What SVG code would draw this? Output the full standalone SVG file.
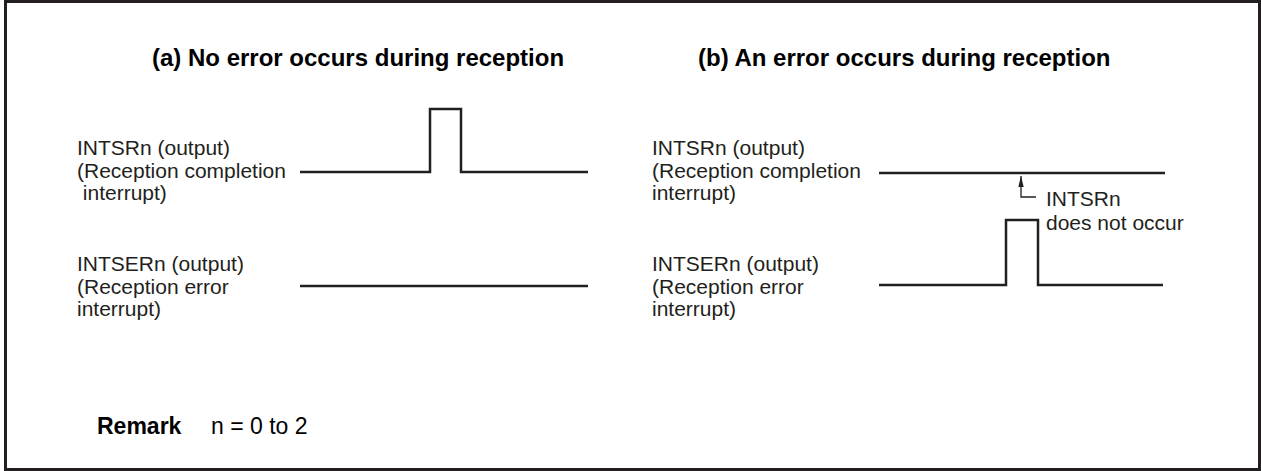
<svg xmlns="http://www.w3.org/2000/svg" width="1261" height="471" viewBox="0 0 1261 471">
<style>
.t{font-family:"Liberation Sans",Arial,sans-serif;font-size:21px;fill:#231f20}
.h{font-family:"Liberation Sans",Arial,sans-serif;font-size:24px;font-weight:bold;fill:#000}
.r{font-family:"Liberation Sans",Arial,sans-serif;font-size:23px;fill:#000}
.w{fill:none;stroke:#231f20;stroke-width:2.5;stroke-linejoin:miter}
.a{fill:none;stroke:#231f20;stroke-width:1.3}
</style>
<defs>
<marker id="ah" markerWidth="12" markerHeight="6" refX="11" refY="3" orient="auto" markerUnits="userSpaceOnUse" viewBox="0 0 12 6">
<path d="M0,0.3 L11,3 L0,5.7 Z" fill="#231f20"/>
</marker>
</defs>
<rect x="5.5" y="1.5" width="1254" height="468" fill="#fff" stroke="#231f20" stroke-width="3"/>
<g id="title-a"><text class="h" x="152" y="66">(a) No error occurs during reception</text></g>
<g id="title-b"><text class="h" x="698" y="66">(b) An error occurs during reception</text></g>
<g id="label-a-intsr" class="t">
<text x="77" y="155">INTSRn (output)</text>
<text x="77" y="177.5">(Reception completion</text>
<text x="77" y="200" xml:space="preserve"> interrupt)</text>
</g>
<g id="label-a-intser" class="t">
<text x="77" y="271">INTSERn (output)</text>
<text x="77" y="293.5">(Reception error</text>
<text x="77" y="316">interrupt)</text>
</g>
<g id="label-b-intsr" class="t">
<text x="652" y="155">INTSRn (output)</text>
<text x="652" y="177.5">(Reception completion</text>
<text x="652" y="200">interrupt)</text>
</g>
<g id="label-b-intser" class="t">
<text x="652" y="271">INTSERn (output)</text>
<text x="652" y="293.5">(Reception error</text>
<text x="652" y="316">interrupt)</text>
</g>
<g id="note-b" class="t">
<text x="1046" y="206">INTSRn</text>
<text x="1046" y="230">does not occur</text>
</g>
<g id="remark">
<text class="r" x="97" y="434"><tspan font-weight="bold">Remark</tspan></text>
<text class="r" x="211" y="434">n = 0 to 2</text>
</g>
<g id="connectors">
<polyline class="w" points="300,172 430,172 430,109 461,109 461,172 588,172"/>
<line class="w" x1="300" y1="286" x2="588" y2="286"/>
<line class="w" x1="879" y1="173" x2="1165" y2="173"/>
<polyline class="w" points="879,285 1006,285 1006,220 1038,220 1038,285 1163,285"/>
<polyline class="a" points="1036,197 1021,197 1021,176" marker-end="url(#ah)"/>
</g>
</svg>
